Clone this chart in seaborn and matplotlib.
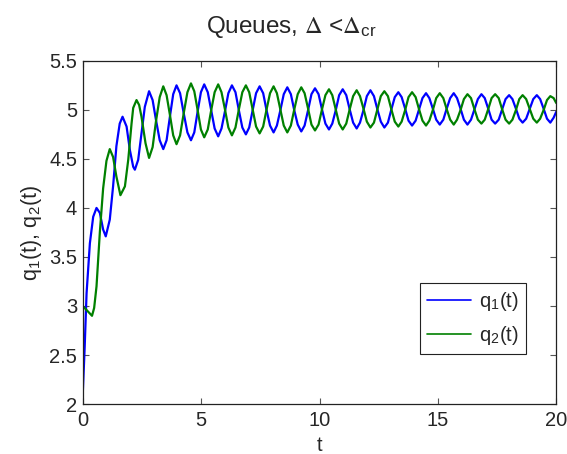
import matplotlib
matplotlib.use('Agg')
import matplotlib.pyplot as plt
import seaborn as sns
import pandas as pd

# values
t_q1_early = [0.00, 0.04, 0.08, 0.16, 0.30, 0.44, 0.58, 0.72, 0.86, 0.97, 1.14, 1.28,
              1.42, 1.56, 1.68, 1.85, 1.99, 2.13, 2.20, 2.34, 2.48, 2.62, 2.80]
q1_early = [2.11, 2.35, 2.58, 3.13, 3.64, 3.91, 4.00, 3.95, 3.78, 3.71, 3.88, 4.22,
            4.63, 4.86, 4.93, 4.83, 4.59, 4.42, 4.39, 4.49, 4.76, 5.03, 5.19]

t_q2_early = [0.00, 0.39, 0.48, 0.58, 0.72, 0.86, 1.00, 1.14, 1.28, 1.42, 1.59, 1.78, 1.92,
              2.06, 2.13, 2.27, 2.38, 2.48, 2.65, 2.80]
q2_early = [3.00, 2.90, 2.98, 3.20, 3.75, 4.20, 4.48, 4.60, 4.52, 4.32, 4.13, 4.22, 4.49,
            4.86, 5.02, 5.10, 5.05, 4.93, 4.66, 4.51]

t_late = [2.95, 3.09, 3.25, 3.40, 3.54, 3.68, 3.82, 3.96, 4.11, 4.26, 4.42, 4.57,
          4.71, 4.85, 4.99, 5.13, 5.28, 5.42, 5.57, 5.72, 5.86, 6.01, 6.15, 6.30,
          6.45, 6.59, 6.74, 6.89, 7.03, 7.18, 7.32, 7.47, 7.62, 7.76, 7.91, 8.06,
          8.20, 8.35, 8.49, 8.64, 8.79, 8.93, 9.08, 9.23, 9.37, 9.52, 9.66, 9.81,
          9.96, 10.10, 10.25, 10.40, 10.54, 10.69, 10.83, 10.98, 11.13, 11.27, 11.42, 11.57,
          11.71, 11.86, 12.00, 12.15, 12.30, 12.44, 12.59, 12.74, 12.89, 13.03, 13.18, 13.33,
          13.47, 13.62, 13.76, 13.91, 14.06, 14.20, 14.35, 14.50, 14.64, 14.79, 14.93, 15.08,
          15.23, 15.37, 15.52, 15.67, 15.81, 15.96, 16.10, 16.25, 16.40, 16.54, 16.69, 16.84,
          16.98, 17.13, 17.27, 17.42, 17.57, 17.71, 17.86, 18.01, 18.15, 18.30, 18.44, 18.58,
          18.73, 18.88, 19.03, 19.18, 19.32, 19.47, 19.61, 19.75, 19.89, 20.00]

q1_late = [5.10, 4.90, 4.69, 4.60, 4.69, 4.93, 5.16, 5.25, 5.17, 4.97, 4.77, 4.69,
           4.77, 4.98, 5.18, 5.26, 5.18, 5.00, 4.81, 4.73, 4.81, 4.99, 5.17, 5.25,
           5.18, 5.00, 4.82, 4.75, 4.82, 5.00, 5.17, 5.24, 5.17, 5.00, 4.84, 4.77,
           4.84, 5.00, 5.16, 5.23, 5.16, 5.00, 4.85, 4.78, 4.84, 5.00, 5.16, 5.22,
           5.16, 5.01, 4.86, 4.80, 4.86, 5.00, 5.15, 5.21, 5.15, 5.01, 4.87, 4.81,
           4.87, 5.00, 5.14, 5.20, 5.14, 5.01, 4.88, 4.82, 4.87, 5.00, 5.13, 5.18,
           5.13, 5.01, 4.89, 4.84, 4.89, 5.00, 5.12, 5.17, 5.12, 5.01, 4.90, 4.85,
           4.90, 5.01, 5.12, 5.17, 5.12, 5.01, 4.90, 4.85, 4.90, 5.00, 5.11, 5.16,
           5.12, 5.01, 4.90, 4.86, 4.90, 5.00, 5.11, 5.15, 5.11, 5.01, 4.91, 4.87,
           4.91, 5.01, 5.11, 5.15, 5.11, 5.01, 4.91, 4.87, 4.92, 4.98]

q2_late = [4.62, 4.88, 5.13, 5.24, 5.15, 4.95, 4.74, 4.65, 4.74, 4.96, 5.18, 5.27,
           5.19, 5.00, 4.80, 4.72, 4.80, 4.99, 5.18, 5.26, 5.18, 5.00, 4.82, 4.74,
           4.82, 5.00, 5.18, 5.25, 5.18, 5.00, 4.83, 4.76, 4.83, 5.00, 5.17, 5.24,
           5.17, 5.00, 4.84, 4.77, 4.84, 5.00, 5.16, 5.23, 5.17, 5.01, 4.85, 4.79,
           4.85, 5.00, 5.15, 5.21, 5.15, 5.00, 4.86, 4.80, 4.86, 5.00, 5.14, 5.20,
           5.14, 5.01, 4.88, 4.82, 4.87, 5.00, 5.14, 5.19, 5.14, 5.01, 4.88, 4.83,
           4.88, 5.00, 5.13, 5.18, 5.13, 5.01, 4.89, 4.84, 4.89, 5.00, 5.12, 5.17,
           5.12, 5.01, 4.90, 4.85, 4.90, 5.00, 5.11, 5.16, 5.12, 5.01, 4.90, 4.86,
           4.90, 5.01, 5.12, 5.16, 5.12, 5.01, 4.90, 4.86, 4.90, 5.00, 5.11, 5.15,
           5.11, 5.01, 4.91, 4.87, 4.91, 5.00, 5.10, 5.14, 5.12, 5.07]

series_labels = [r'q$_\mathregular{1}$(t)', r'q$_\mathregular{2}$(t)']
series_colors = ['#0000ff', '#008000']

x_ticks = [0, 5, 10, 15, 20]
y_ticks = [2, 2.5, 3, 3.5, 4, 4.5, 5, 5.5]
y_tick_labels = ['2', '2.5', '3', '3.5', '4', '4.5', '5', '5.5']

df = pd.concat([
    pd.DataFrame({'t': t_q1_early + t_late, 'q': q1_early + q1_late, 'series': series_labels[0]}),
    pd.DataFrame({'t': t_q2_early + t_late, 'q': q2_early + q2_late, 'series': series_labels[1]}),
], ignore_index=True)

sns.set_theme(style='ticks')
plt.rcParams['font.family'] = ['Liberation Sans', 'DejaVu Sans']
plt.rcParams['mathtext.fontset'] = 'stix'
plt.rcParams['xtick.direction'] = 'in'
plt.rcParams['ytick.direction'] = 'in'

fig = plt.figure(figsize=(5.67, 4.54), dpi=100)
ax = fig.add_axes([0.146, 0.110, 0.835, 0.756])

sns.lineplot(data=df, x='t', y='q', hue='series', palette=dict(zip(series_labels, series_colors)),
             estimator=None, sort=False, linewidth=1.6, ax=ax)

ax.set_xlim(0, 20)
ax.set_ylim(2, 5.5)
ax.set_xticks(x_ticks)
ax.set_yticks(y_ticks)
ax.set_yticklabels(y_tick_labels)
ax.tick_params(axis='both', which='both', top=True, right=True, length=4, width=0.8,
               color='#555555', labelsize=14.5)
ax.tick_params(axis='x', pad=5)
ax.tick_params(axis='y', pad=4)
for s in ax.spines.values():
    s.set_color('#222222')
    s.set_linewidth(0.9)

ax.set_title(r'Queues, $\Delta$ <$\Delta_\mathregular{cr}$', fontsize=17.5, x=0.44, pad=20)
ax.set_xlabel('t', fontsize=14.5, labelpad=4)
ax.set_ylabel(r'q$_\mathregular{1}$(t), q$_\mathregular{2}$(t)', fontsize=15.5, labelpad=4)

leg = ax.legend(loc='lower right', bbox_to_anchor=(0.936, 0.146), fontsize=14.5,
                frameon=True, fancybox=False, framealpha=1, edgecolor='#222222',
                handlelength=2.2, borderpad=0.35, labelspacing=0.55, handletextpad=0.4,
                borderaxespad=0)
leg.get_frame().set_linewidth(0.8)
for line in leg.get_lines():
    line.set_linewidth(1.2)

fig.savefig('out.png', dpi=100)
plt.close(fig)
